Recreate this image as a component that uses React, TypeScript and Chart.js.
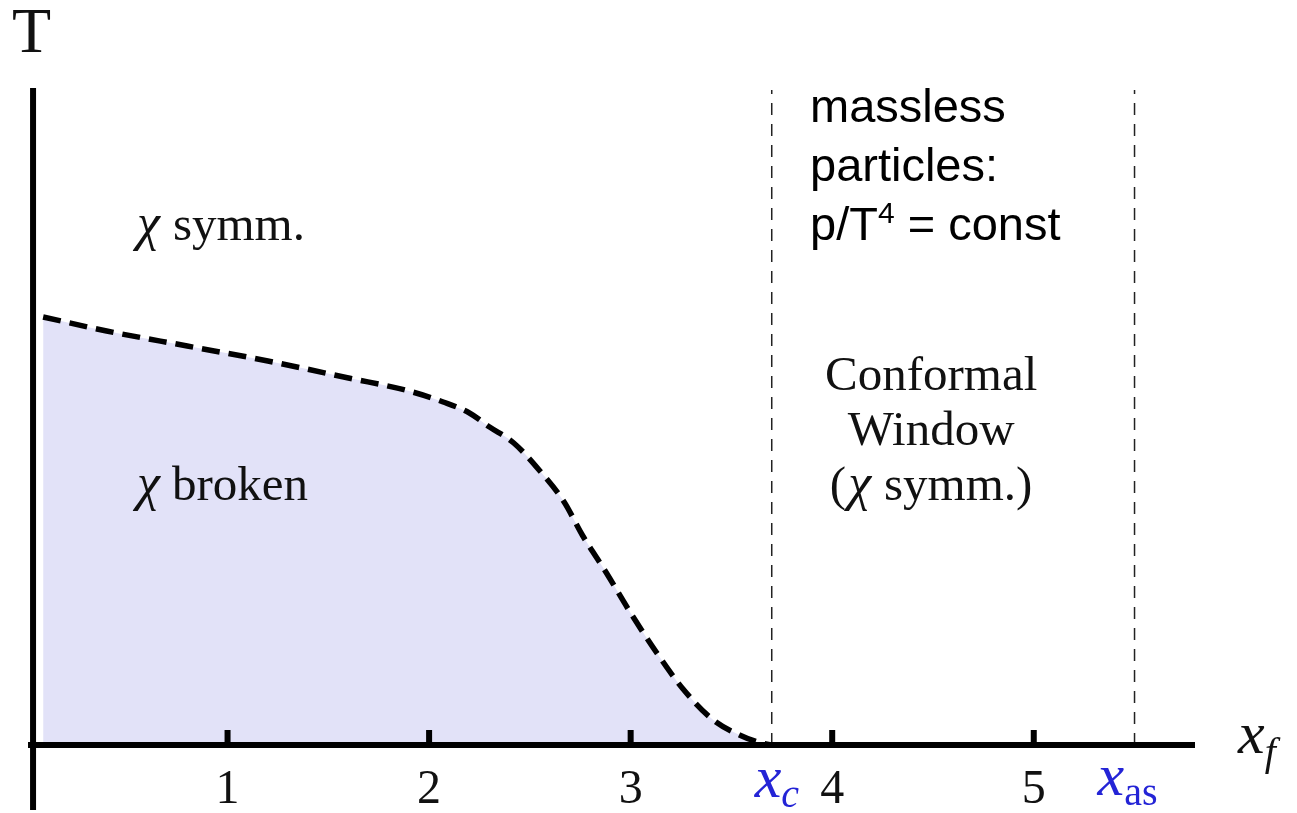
import React, { useEffect, useRef } from "react";
import { Chart, registerables } from "chart.js";

Chart.register(...registerables);

// Chiral phase boundary T(x_f)
const boundaryX = [0.085, 0.4, 0.8, 1.2, 1.6, 1.9, 2.07, 2.2, 2.3, 2.42, 2.55, 2.67, 2.76, 2.88, 3.0, 3.13, 3.26, 3.41, 3.54, 3.63, 3.7];
const boundaryT = [4.28, 4.14, 3.99, 3.84, 3.67, 3.54, 3.43, 3.32, 3.18, 3.02, 2.74, 2.43, 2.1, 1.72, 1.32, 0.92, 0.56, 0.25, 0.1, 0.03, 0];

// x-axis ticks and special points
const tickValues = [1, 2, 3, 4, 5];
const tickLabels = ["1", "2", "3", "4", "5"];
const xCritical = 3.7;
const xAsymptotic = 5.5;

// axis extents
const xMin = 0;
const xMax = 5.8;
const tMax = 6.57;
const yAxisAt = 0.035;
const xAxisStart = 0.01;
const yAxisBottom = -0.65;
const guideTop = 6.55;

const SERIF = '"Liberation Serif", "Times New Roman", serif';
const SANS = '"Liberation Sans", Arial, sans-serif';
const BLUE = "#2424d6";
const INK = "#111";

type Run = { text: string; font: string; dy?: number; dx?: number; color?: string };

function drawRuns(ctx: CanvasRenderingContext2D, x: number, y: number, runs: Run[], align: "left" | "center" = "left") {
  let total = 0;
  runs.forEach((r) => {
    ctx.font = r.font;
    total += ctx.measureText(r.text).width + (r.dx || 0);
  });
  let cx = align === "center" ? x - total / 2 : x;
  ctx.textAlign = "left";
  ctx.textBaseline = "alphabetic";
  runs.forEach((r) => {
    ctx.font = r.font;
    ctx.fillStyle = r.color || INK;
    cx += r.dx || 0;
    ctx.fillText(r.text, cx, y + (r.dy || 0));
    cx += ctx.measureText(r.text).width;
  });
}

const overlay = {
  id: "phaseOverlay",
  afterDatasetsDraw(chart: any) {
    const { ctx } = chart;
    const xs = chart.scales.x;
    const ys = chart.scales.y;
    const X = (v: number) => xs.getPixelForValue(v);
    const Y = (v: number) => ys.getPixelForValue(v);
    ctx.save();
    ctx.strokeStyle = "#000";
    ctx.lineCap = "butt";
    ctx.setLineDash([]);

    // axes
    ctx.lineWidth = 6;
    ctx.beginPath();
    ctx.moveTo(X(xAxisStart), Y(0));
    ctx.lineTo(X(xMax), Y(0));
    ctx.stroke();
    ctx.beginPath();
    ctx.moveTo(X(yAxisAt), Y(tMax));
    ctx.lineTo(X(yAxisAt), Y(yAxisBottom));
    ctx.stroke();

    // tick marks (pointing up)
    ctx.lineWidth = 6;
    ctx.beginPath();
    tickValues.forEach((v) => {
      ctx.moveTo(X(v), Y(0));
      ctx.lineTo(X(v), Y(0) - 15);
    });
    ctx.stroke();

    // tick labels
    ctx.fillStyle = INK;
    ctx.font = `48px ${SERIF}`;
    ctx.textAlign = "center";
    ctx.textBaseline = "alphabetic";
    tickValues.forEach((v, i) => {
      ctx.fillText(tickLabels[i], X(v), Y(0) + 58);
    });

    // special x positions
    drawRuns(ctx, X(xCritical) - 17, Y(0) + 52, [
      { text: "x", font: `italic 60px ${SERIF}`, color: BLUE },
      { text: "c", font: `italic 40px ${SERIF}`, color: BLUE, dy: 10 },
    ]);
    drawRuns(ctx, X(xAsymptotic) - 37, Y(0) + 50, [
      { text: "x", font: `italic 60px ${SERIF}`, color: BLUE },
      { text: "as", font: `40px ${SERIF}`, color: BLUE, dy: 10 },
    ]);

    // axis titles
    drawRuns(ctx, X(xMax) + 43, Y(0) + 8, [
      { text: "x", font: `italic 60px ${SERIF}` },
      { text: "f", font: `italic 40px ${SERIF}`, dy: 12 },
    ]);
    drawRuns(ctx, 12, 52, [{ text: "T", font: `64px ${SERIF}` }]);

    // region labels
    const serif = `49px ${SERIF}`;
    const ital = `italic 52px ${SERIF}`;
    drawRuns(ctx, 137, 240, [
      { text: "χ", font: ital },
      { text: "symm.", font: serif, dx: 13 },
    ]);
    drawRuns(ctx, 137, 500, [
      { text: "χ", font: ital },
      { text: "broken", font: serif, dx: 12 },
    ]);
    const cwX = (X(xCritical) + X(xAsymptotic)) / 2 - 22;
    drawRuns(ctx, cwX, 390, [{ text: "Conformal", font: serif }], "center");
    drawRuns(ctx, cwX, 445, [{ text: "Window", font: serif }], "center");
    drawRuns(ctx, cwX, 500, [
      { text: "(", font: serif },
      { text: "χ", font: ital, dx: 2 },
      { text: "symm.)", font: serif, dx: 13 },
    ], "center");

    const sans = `47px ${SANS}`;
    drawRuns(ctx, 810, 122, [{ text: "massless", font: sans, color: "#000" }]);
    drawRuns(ctx, 810, 181, [{ text: "particles:", font: sans, color: "#000" }]);
    drawRuns(ctx, 810, 240, [
      { text: "p/T", font: sans, color: "#000" },
      { text: "4", font: `30px ${SANS}`, dy: -17, color: "#000" },
      { text: " = const", font: sans, color: "#000" },
    ]);

    ctx.restore();
  },
};

export default function App() {
  const canvasRef = useRef<HTMLCanvasElement | null>(null);

  useEffect(() => {
    document.body.style.margin = "0";
    const canvas = canvasRef.current;
    if (!canvas) return;

    const boundary = boundaryX.map((x, i) => ({ x, y: boundaryT[i] }));
    const guide = (x: number) => [
      { x, y: 0 },
      { x, y: guideTop },
    ];

    const chart = new Chart(canvas, {
      type: "line",
      data: {
        datasets: [
          {
            data: boundary,
            borderColor: "#000",
            borderWidth: 5.5,
            borderDash: [18, 9],
            backgroundColor: "rgb(226, 226, 248)",
            fill: "origin",
            cubicInterpolationMode: "monotone",
            pointRadius: 0,
          },
          {
            data: guide(xCritical),
            borderColor: "#222",
            borderWidth: 1.5,
            borderDash: [12, 9],
            fill: false,
            pointRadius: 0,
          },
          {
            data: guide(xAsymptotic),
            borderColor: "#222",
            borderWidth: 1.5,
            borderDash: [12, 9],
            fill: false,
            pointRadius: 0,
          },
        ],
      },
      options: {
        animation: false,
        responsive: true,
        maintainAspectRatio: false,
        layout: { padding: { left: 26, right: 102, top: 88, bottom: 68 } },
        plugins: {
          legend: { display: false },
          tooltip: { enabled: false },
        },
        scales: {
          x: { type: "linear", min: xMin, max: xMax, display: false },
          y: { type: "linear", min: 0, max: tMax, display: false },
        },
      },
      plugins: [overlay],
    });

    return () => chart.destroy();
  }, []);

  return (
    <div style={{ position: "relative", width: 1297, height: 813, background: "#fff" }}>
      <canvas ref={canvasRef} />
    </div>
  );
}
